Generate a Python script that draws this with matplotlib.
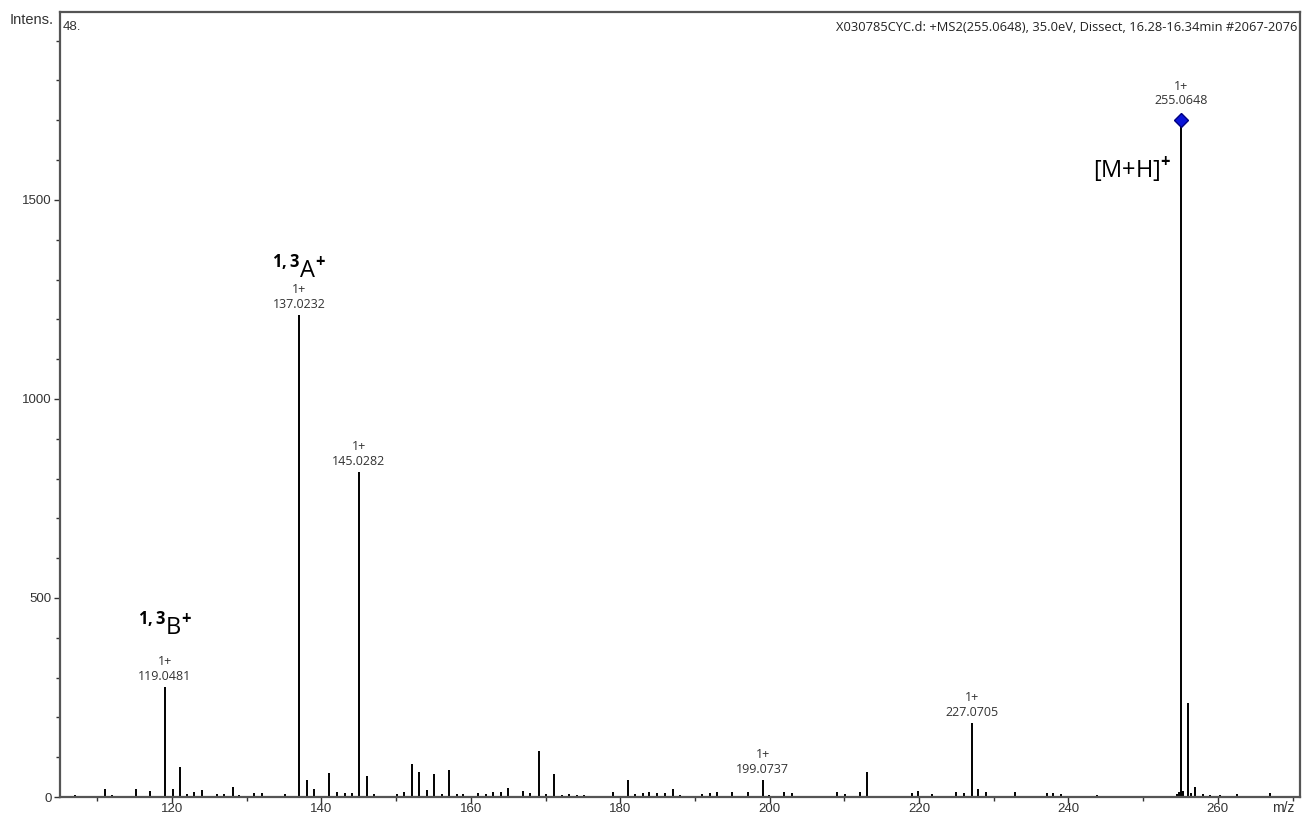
import matplotlib
matplotlib.use("Agg")
import matplotlib.pyplot as plt
from matplotlib.ticker import MultipleLocator

# ---- data ----
mz = [107.0, 111.0, 112.0, 115.2, 117.0, 119.0481, 120.1, 121.06, 122.0, 123.0, 124.0,
      126.0, 127.0, 128.1, 129.0, 131.0, 132.0, 135.1, 137.0232, 138.0, 139.0, 141.0,
      142.1, 143.1, 144.1, 145.0282, 146.1, 147.1, 150.1, 151.0, 152.1, 153.0, 154.1,
      155.05, 156.1, 157.06, 158.1, 158.9, 161.0, 162.0, 163.0, 164.1, 165.0, 167.0,
      167.9, 169.1, 170.0, 171.1, 172.2, 173.1, 174.2, 175.1, 176.0, 179.0, 181.0,
      182.0, 183.0, 183.8, 184.9, 186.0, 187.0, 188.0, 191.0, 192.0, 192.9, 194.9,
      197.1, 199.0737, 199.9, 201.9, 203.0, 209.0, 210.1, 212.1, 213.0, 215.7, 217.0,
      219.0, 219.8, 221.8, 225.0, 226.0, 227.0705, 227.9, 229.0, 232.8, 237.1, 237.9,
      239.0, 243.8, 254.5, 254.8, 255.0648, 255.4, 256.0, 256.4, 257.0, 258.0, 258.9,
      260.3, 262.6, 267.0]
intensity = [4, 20, 6, 20, 15, 276, 20, 75, 7, 12, 17,
             7, 8, 25, 5, 10, 10, 7, 1211, 42, 21, 60,
             12, 10, 10, 817, 54, 7, 7, 12, 84, 63, 17,
             59, 8, 67, 8, 8, 10, 8, 12, 12, 23, 14,
             10, 116, 8, 59, 5, 8, 5, 4, 3, 12, 42,
             8, 10, 12, 10, 10, 21, 5, 8, 10, 12, 12,
             12, 43, 6, 12, 10, 12, 8, 12, 63, 3, 3,
             10, 15, 8, 12, 10, 186, 21, 12, 12, 10, 10,
             8, 4, 8, 12, 1701, 14, 236, 10, 25, 8, 5,
             5, 8, 10]

label_mz = [119.0481, 137.0232, 145.0282, 199.0737, 227.0705, 255.0648]
label_int = [276, 1211, 817, 43, 186, 1701]
label_charge = ["1+", "1+", "1+", "1+", "1+", "1+"]

precursor_mz = 255.0648
precursor_int = 1701

frag_names = [r"$^{\mathbf{1,3}}$B$^{\mathbf{+}}$", r"$^{\mathbf{1,3}}$A$^{\mathbf{+}}$",
              r"[M+H]$^{\mathbf{+}}$"]
frag_mz = [119.0, 137.0, 248.6]
frag_y = [407, 1305, 1555]

title_text = "X030785CYC.d: +MS2(255.0648), 35.0eV, Dissect, 16.28-16.34min #2067-2076"

# ---- figure ----
plt.rcParams["mathtext.fontset"] = "custom"
plt.rcParams["mathtext.rm"] = "Open Sans"
plt.rcParams["mathtext.bf"] = "Open Sans:bold"

fig = plt.figure(figsize=(13.04, 8.18), dpi=100)
ax = fig.add_axes([60/1304, 21/818, 1240/1304, 785/818])

ax.vlines(mz, 0, intensity, colors="#000000", linewidth=1.4)
ax.plot([precursor_mz], [precursor_int], marker="D", color="#0a14d8",
        markeredgecolor="#000080", markersize=7, linestyle="none", zorder=5)

for m, h, c in zip(label_mz, label_int, label_charge):
    off = 9 if m == precursor_mz else 3
    ax.annotate(f"{c}\n{m:.4f}", xy=(m, h), xytext=(0, off), textcoords="offset points",
                ha="center", va="bottom", fontsize=9, color="#333333",
                family="Open Sans", linespacing=1.15)

for name, m, yv in zip(frag_names, frag_mz, frag_y):
    ax.text(m, yv, name, ha="center", va="baseline", fontsize=17,
            family="Open Sans", color="black")

ax.set_xlim(105, 271)
ax.set_ylim(0, 1972)

ax.xaxis.set_major_locator(MultipleLocator(20))
ax.xaxis.set_minor_locator(MultipleLocator(10))
ax.yaxis.set_major_locator(MultipleLocator(500))
ax.yaxis.set_minor_locator(MultipleLocator(100))
ax.tick_params(axis="both", which="major", length=4, width=1.0, color="#333333",
               labelsize=9.5, labelcolor="#333333", pad=2)
ax.tick_params(axis="x", which="major", pad=0.5)
ax.tick_params(axis="both", which="minor", length=3, width=1.0, color="#333333")
for lab in ax.get_xticklabels() + ax.get_yticklabels():
    lab.set_family("Liberation Sans")

for sp in ax.spines.values():
    sp.set_color("#555555")
    sp.set_linewidth(1.6)

ax.text(0.998, 0.988, title_text, transform=ax.transAxes, ha="right", va="top",
        fontsize=9.3, family="Open Sans", color="#222222")
ax.text(0.002, 0.988, "48.", transform=ax.transAxes, ha="left", va="top",
        fontsize=9.5, family="Liberation Sans", color="#333333")
fig.text(10/1304, 1 - 20/818, "Intens.", ha="left", va="center",
         fontsize=10.5, family="Liberation Sans", color="#333333")
fig.text(1283/1304, 1 - 808/818, "m/z", ha="center", va="center",
         fontsize=10, family="Liberation Sans", color="#333333")

fig.savefig("out.png", dpi=100)
